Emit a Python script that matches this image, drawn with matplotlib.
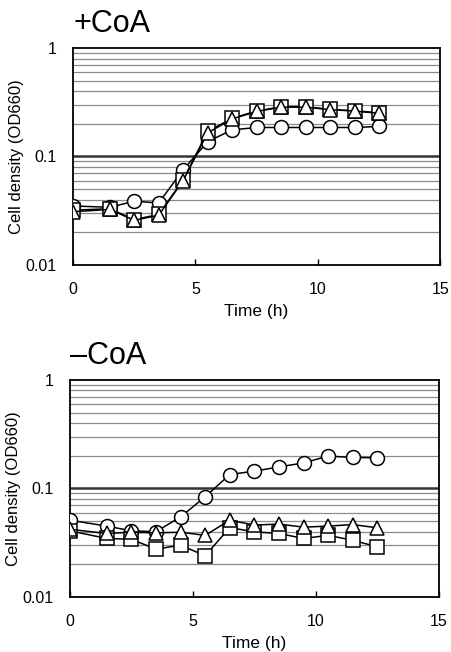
import matplotlib
matplotlib.use("Agg")
from matplotlib import pyplot as plt
from matplotlib.ticker import FixedLocator, NullFormatter
import numpy as np

plt.rcParams['font.family'] = ['Liberation Sans', 'DejaVu Sans']

time_h = [0, 1.5, 2.5, 3.5, 4.5, 5.5, 6.5, 7.5, 8.5, 9.5, 10.5, 11.5, 12.5]

# +CoA
plus_circle = [0.035, 0.034, 0.0387, 0.0373, 0.0755, 0.137, 0.176, 0.185, 0.185, 0.185, 0.185, 0.185, 0.189]
plus_square = [0.032, 0.033, 0.0262, 0.0292, 0.061, 0.170, 0.225, 0.262, 0.287, 0.287, 0.272, 0.264, 0.253]
plus_triangle = [0.031, 0.0325, 0.0258, 0.0288, 0.060, 0.165, 0.222, 0.260, 0.285, 0.285, 0.270, 0.262, 0.250]

# -CoA
minus_circle = [0.051, 0.045, 0.0407, 0.040, 0.0547, 0.0838, 0.1345, 0.1445, 0.158, 0.172, 0.199, 0.193, 0.192]
minus_square = [0.0407, 0.0346, 0.034, 0.0276, 0.030, 0.024, 0.0436, 0.0398, 0.0385, 0.0346, 0.037, 0.0333, 0.029]
minus_triangle = [0.042, 0.0385, 0.0395, 0.039, 0.0395, 0.037, 0.051, 0.046, 0.047, 0.044, 0.045, 0.0465, 0.0434]

panels = [
    ("+CoA", [0.162, 0.5936, 0.814, 0.3328], plus_circle, plus_square, plus_triangle),
    ("\u2013CoA", [0.155, 0.0844, 0.818, 0.3328], minus_circle, minus_square, minus_triangle),
]

fig = plt.figure(figsize=(4.51, 6.52), dpi=100)

for title, rect, circ, sq, tri in panels:
    ax = fig.add_axes(rect)
    ax.set_yscale('log')
    ax.set_ylim(0.01, 1)
    ax.set_xlim(0, 15)

    # horizontal grid at every minor step, the 0.1 line heavier
    for dec in [0.01, 0.1]:
        for k in range(2, 10):
            ax.axhline(dec * k, color='#8a8a8a', lw=0.9, zorder=1)
    ax.axhline(0.1, color='#333333', lw=1.8, zorder=1)

    kw = dict(color='black', lw=1.1, mfc='white', mec='black', mew=1.1, zorder=3)
    ax.plot(time_h, circ, marker='o', ms=10, **kw)
    ax.plot(time_h, sq, marker='s', ms=10, **kw)
    ax.plot(time_h, tri, marker='^', ms=10, **kw)

    ax.yaxis.set_major_locator(FixedLocator([0.01, 0.1, 1]))
    ax.set_yticklabels(['0.01', '0.1', '1'])
    ax.yaxis.set_minor_formatter(NullFormatter())
    ax.tick_params(axis='y', which='both', length=0, labelsize=11.5, pad=12)
    ax.set_xticks([0, 5, 10, 15])
    ax.tick_params(axis='x', direction='in', length=4, width=1, labelsize=11.5, pad=12)

    for s in ax.spines.values():
        s.set_linewidth(1.3)
        s.set_color('black')

    ax.set_xlabel('Time (h)', fontsize=12.5, labelpad=5)
    ax.set_ylabel('Cell density (OD660)', fontsize=12, labelpad=1)
    ax.text(0.0, 1.04, title, transform=ax.transAxes, fontsize=22,
            ha='left', va='bottom')

fig.savefig('out.png', dpi=100)
